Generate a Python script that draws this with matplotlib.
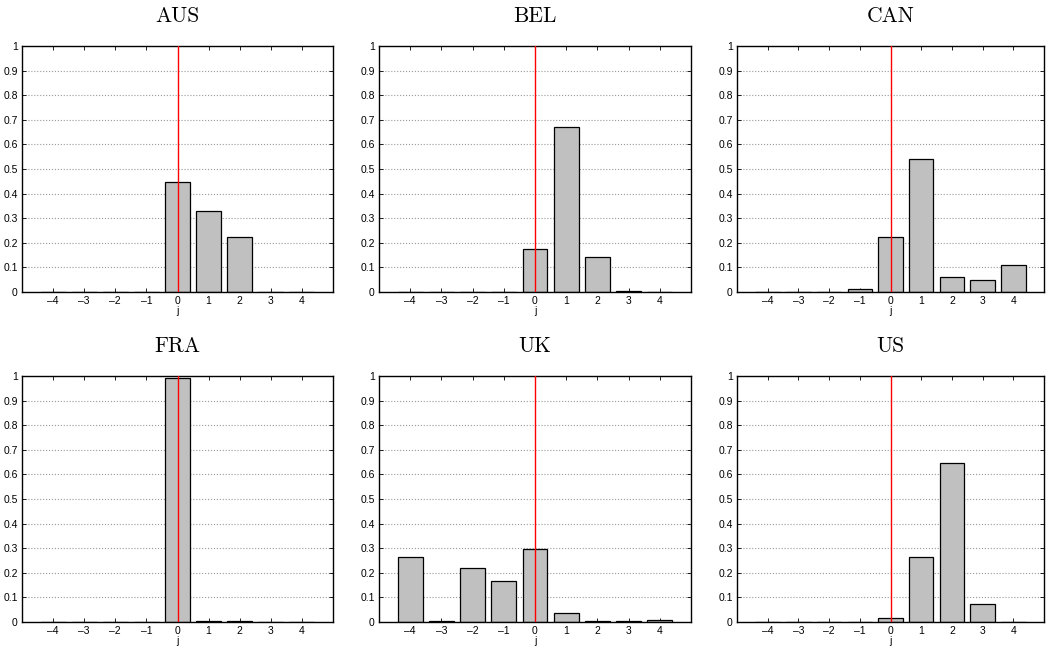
import numpy as np
import matplotlib
matplotlib.use("Agg")
import matplotlib.pyplot as plt

# lags j and the share of each lag, per country
lags = [-4, -3, -2, -1, 0, 1, 2, 3, 4]
countries = ["AUS", "BEL", "CAN", "FRA", "UK", "US"]
aus = [0.0, 0.0, 0.0, 0.0, 0.448, 0.328, 0.223, 0.0, 0.0]
bel = [0.001, 0.001, 0.001, 0.001, 0.176, 0.671, 0.144, 0.004, 0.001]
can = [0.001, 0.001, 0.002, 0.012, 0.222, 0.542, 0.060, 0.050, 0.109]
fra = [0.0, 0.0, 0.0, 0.0, 0.993, 0.006, 0.003, 0.0, 0.0]
uk = [0.264, 0.006, 0.220, 0.166, 0.295, 0.037, 0.003, 0.003, 0.008]
us = [0.0, 0.0, 0.0, 0.0, 0.017, 0.264, 0.646, 0.073, 0.002]
values = [aus, bel, can, fra, uk, us]

plt.rcParams['font.family'] = ['Liberation Sans', 'DejaVu Sans']

fig = plt.figure(figsize=(10.49, 6.49), dpi=100)
W, H = 1049, 649
lefts = [22, 379, 737]
rights = [333, 691, 1044]
tops = [46, 376]
bottom_px = [292, 622]

for k, (name, vals) in enumerate(zip(countries, values)):
    r, c = divmod(k, 3)
    l, rt = lefts[c], rights[c]
    t, b = tops[r], bottom_px[r]
    ax = fig.add_axes([l / W, 1 - b / H, (rt - l) / W, (b - t) / H])
    ax.bar(lags, vals, width=0.8, color='#c0c0c0', edgecolor='black', linewidth=0.9, zorder=2)
    ax.plot([0, 0], [0, 1], color='red', linewidth=1.0, zorder=3)
    ax.set_xlim(-5, 5)
    ax.set_ylim(0, 1)
    ax.set_xticks(lags)
    ax.set_xticklabels(['\u2013' + str(-j) if j < 0 else str(j) for j in lags])
    ax.set_yticks(np.arange(0, 1.01, 0.1))
    ax.set_yticklabels(['0', '0.1', '0.2', '0.3', '0.4', '0.5', '0.6', '0.7', '0.8', '0.9', '1'])
    ax.yaxis.grid(True, linestyle=':', color='#999999', linewidth=0.8, zorder=0)
    ax.set_axisbelow(True)
    ax.tick_params(direction='in', top=True, right=True, labelsize=7.5, length=3, width=0.6, pad=3)
    ax.set_xlabel('j', fontsize=7.5, labelpad=0)
    for s in ax.spines.values():
        s.set_linewidth(1.0)
    ax.set_title(name, family='cmr10', fontsize=15.5, pad=17)

fig.savefig('out.png', dpi=100)
